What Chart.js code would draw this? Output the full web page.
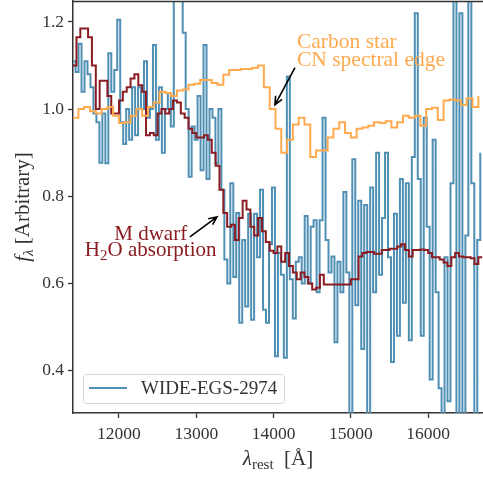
<!DOCTYPE html>
<html>
<head>
<meta charset="utf-8">
<script src="https://cdn.jsdelivr.net/npm/chart.js@4.4.1/dist/chart.umd.min.js"></script>
<style>
  html, body { margin: 0; padding: 0; background: #fff; }
  #wrap { width: 483px; height: 480px; }
</style>
</head>
<body>
<div id="wrap"><canvas id="spec" width="483" height="480"></canvas></div>
<script>
// observed spectrum, 38.5 A bins from 11400 A
const OBS_START = 11400;
const OBS_STEP = 38.5;
const obsFlux = [
  1.11, 1.085, 1.15, 1.04, 1.11, 1.08, 1.05, 0.99, 0.97, 0.877,
  0.99, 0.876, 1.128, 1.04, 1.09, 1.205, 0.97, 0.92, 1.00, 0.93,
  1.05, 0.94, 1.05, 1.00, 1.11, 0.98, 1.00, 1.147, 0.93, 1.05,
  0.90, 1.00, 1.037, 0.96, 1.30, 1.35, 1.30, 1.175, 1.00, 0.845,
  0.96, 0.93, 1.03, 0.86, 1.147, 0.84, 1.00, 0.98, 0.875, 1.00,
  0.815, 0.655, 0.60, 0.83, 0.615, 0.762, 0.51, 0.70, 0.547, 0.76,
  0.517, 0.76, 0.66, 0.815, 0.54, 0.51, 0.69, 0.82, 0.433, 0.67,
  0.62, 0.43, 1.075, 0.61, 0.52, 0.65, 0.66, 0.60, 0.755, 0.60,
  0.73, 0.745, 0.58, 0.745, 0.98, 0.70, 0.625, 0.662, 0.465, 0.65,
  0.58, 0.81, 0.625, 0.28, 0.885, 0.55, 0.79, 0.45, 0.78, 0.28,
  0.82, 0.58, 0.90, 0.62, 0.75, 0.90, 0.66, 0.42, 0.76, 0.48,
  0.84, 0.556, 0.83, 0.47, 0.89, 1.22, 0.84, 0.48, 0.98, 0.73,
  0.38, 0.93, 0.58, 0.36, 0.28, 0.66, 0.33, 0.83, 1.30, 0.28,
  1.22, 0.28, 0.71, 1.30, 0.83, 0.28, 0.70, 0.90
];

// M dwarf template, 50 A bins from 11400 A
const MDW_START = 11400;
const MDW_STEP = 50;
const mdwarfFlux = [
  1.10, 1.165, 1.185, 1.185, 1.165, 1.10, 1.00, 1.065, 1.065, 1.03,
  0.99, 0.99, 1.02, 1.04, 1.05, 1.07, 1.08, 1.055, 1.04, 0.94,
  0.945, 0.94, 0.99, 1.00, 0.99, 1.00, 1.02, 1.015, 0.99, 0.98,
  0.955, 0.945, 0.935, 0.935, 0.94, 0.93, 0.90, 0.87, 0.815, 0.762,
  0.73, 0.735, 0.70, 0.75, 0.79, 0.77, 0.73, 0.71, 0.75, 0.72,
  0.695, 0.675, 0.67, 0.685, 0.65, 0.67, 0.64, 0.625, 0.61, 0.625,
  0.615, 0.60, 0.586, 0.59, 0.62, 0.598, 0.598, 0.598, 0.598, 0.598,
  0.598, 0.598, 0.61, 0.61, 0.662, 0.67, 0.672, 0.672, 0.668, 0.668,
  0.677, 0.677, 0.68, 0.68, 0.685, 0.69, 0.677, 0.662, 0.677, 0.677,
  0.678, 0.677, 0.67, 0.66, 0.66, 0.655, 0.648, 0.64, 0.66, 0.67,
  0.662, 0.66, 0.66, 0.658, 0.645, 0.66, 0.66
];

// carbon star template, 75 A bins from 11400 A
const CSTAR_START = 11400;
const CSTAR_STEP = 75;
const cstarFlux = [
  0.98, 1.00, 1.005, 0.995, 0.99, 1.00, 1.005, 0.985, 0.968, 0.97,
  0.985, 1.00, 0.985, 1.005, 1.015, 1.04, 1.037, 1.03, 1.043, 1.045,
  1.056, 1.058, 1.067, 1.067, 1.06, 1.056, 1.079, 1.09, 1.09, 1.092,
  1.092, 1.095, 1.10, 1.05, 1.00, 0.955, 0.90, 0.93, 0.965, 0.98,
  0.965, 0.89, 0.905, 0.905, 0.935, 0.955, 0.97, 0.945, 0.935, 0.955,
  0.958, 0.962, 0.97, 0.968, 0.972, 0.958, 0.97, 0.985, 0.98, 0.985,
  0.962, 1.00, 1.003, 0.975, 1.02, 1.022, 1.02, 1.01, 1.025, 1.005,
  1.03
];

const xTicks = [12000, 13000, 14000, 15000, 16000];
const yTicks = [0.4, 0.6, 0.8, 1.0, 1.2];
const legendLabel = 'WIDE-EGS-2974';

const BLUE = '#4f8fb4';
const MAROON = '#8a1c22';
const ORANGE = '#ffaa4f';
const INK = '#333333';
const SERIF = '"Liberation Serif", "DejaVu Serif", serif';

function toPoints(start, step, flux) {
  return flux.map((f, i) => ({ x: start + i * step, y: f }));
}

// draws a run of text pieces (for sub-scripts)
function drawRich(ctx, parts, x, y, align) {
  let total = 0;
  parts.forEach(p => { ctx.font = p.font; total += ctx.measureText(p.t).width; });
  let cx = align === 'center' ? x - total / 2 : (align === 'right' ? x - total : x);
  ctx.textAlign = 'left';
  parts.forEach(p => {
    ctx.font = p.font;
    ctx.fillText(p.t, cx, y + (p.dy || 0));
    cx += ctx.measureText(p.t).width;
  });
}

function arrow(ctx, x0, y0, x1, y1) {
  const ang = Math.atan2(y1 - y0, x1 - x0);
  const L = 9, spread = 0.42;
  ctx.beginPath();
  ctx.moveTo(x0, y0);
  ctx.lineTo(x1, y1);
  ctx.moveTo(x1 - L * Math.cos(ang - spread), y1 - L * Math.sin(ang - spread));
  ctx.lineTo(x1, y1);
  ctx.lineTo(x1 - L * Math.cos(ang + spread), y1 - L * Math.sin(ang + spread));
  ctx.stroke();
}

const overlay = {
  id: 'overlay',
  afterDatasetsDraw(chart) {
    const { ctx, chartArea: a, scales: { x, y } } = chart;
    ctx.save();

    // top spine
    ctx.strokeStyle = INK;
    ctx.lineWidth = 1.5;
    ctx.beginPath();
    ctx.moveTo(a.left, a.top + 0.5);
    ctx.lineTo(a.right, a.top + 0.5);
    ctx.stroke();

    // carbon star note
    ctx.fillStyle = ORANGE;
    ctx.textBaseline = 'alphabetic';
    ctx.textAlign = 'left';
    ctx.font = '21.5px ' + SERIF;
    const cx = x.getPixelForValue(14303);
    ctx.fillText('Carbon star', cx, y.getPixelForValue(1.14));
    ctx.fillText('CN spectral edge', cx, y.getPixelForValue(1.10));

    // M dwarf note
    ctx.fillStyle = MAROON;
    const mx = x.getPixelForValue(12410);
    ctx.textAlign = 'center';
    ctx.font = '21px ' + SERIF;
    ctx.fillText('M dwarf', mx, y.getPixelForValue(0.70));
    drawRich(ctx, [
      { t: 'H', font: '21px ' + SERIF },
      { t: '2', font: '15px ' + SERIF, dy: 4 },
      { t: 'O absorption', font: '21px ' + SERIF }
    ], mx, y.getPixelForValue(0.662), 'center');

    // arrows
    ctx.strokeStyle = '#000';
    ctx.lineWidth = 1.6;
    arrow(ctx, x.getPixelForValue(14277), y.getPixelForValue(1.095),
               x.getPixelForValue(14018), y.getPixelForValue(1.010));
    arrow(ctx, x.getPixelForValue(12918), y.getPixelForValue(0.707),
               x.getPixelForValue(13268), y.getPixelForValue(0.753));

    // legend
    const lx = a.left + 10, ly = a.bottom - 39, lw = 201, lh = 29;
    ctx.beginPath();
    ctx.roundRect(lx + 0.5, ly + 0.5, lw, lh, 3);
    ctx.fillStyle = 'rgba(255,255,255,0.8)';
    ctx.fill();
    ctx.strokeStyle = '#d6d6d6';
    ctx.lineWidth = 1;
    ctx.stroke();
    ctx.strokeStyle = BLUE;
    ctx.lineWidth = 2;
    ctx.beginPath();
    ctx.moveTo(lx + 6, ly + 14);
    ctx.lineTo(lx + 44, ly + 14);
    ctx.stroke();
    ctx.fillStyle = INK;
    ctx.font = '19px ' + SERIF;
    ctx.textAlign = 'left';
    ctx.textBaseline = 'middle';
    ctx.fillText(legendLabel, lx + 58, ly + 15);

    // axis titles
    ctx.fillStyle = INK;
    ctx.textBaseline = 'alphabetic';
    drawRich(ctx, [
      { t: 'λ', font: 'italic 21px ' + SERIF },
      { t: 'rest', font: '15px ' + SERIF, dy: 4 },
      { t: '  [Å]', font: '21px ' + SERIF }
    ], (a.left + a.right) / 2, 465, 'center');

    ctx.translate(29, (a.top + a.bottom) / 2);
    ctx.rotate(-Math.PI / 2);
    drawRich(ctx, [
      { t: 'f', font: 'italic 21px ' + SERIF },
      { t: 'λ', font: 'italic 15px ' + SERIF, dy: 4 },
      { t: ' [Arbitrary]', font: '21px ' + SERIF }
    ], 0, 0, 'center');

    ctx.restore();
  }
};

const lineStyle = {
  stepped: true,
  pointRadius: 0,
  borderWidth: 2,
  tension: 0,
  fill: false,
  clip: 0
};

new Chart(document.getElementById('spec'), {
  type: 'line',
  data: {
    datasets: [
      { ...lineStyle, label: legendLabel, data: toPoints(OBS_START, OBS_STEP, obsFlux),
        borderColor: BLUE, order: 3 },
      { ...lineStyle, label: 'M dwarf', data: toPoints(MDW_START, MDW_STEP, mdwarfFlux),
        borderColor: MAROON, order: 2 },
      { ...lineStyle, label: 'Carbon star', data: toPoints(CSTAR_START, CSTAR_STEP, cstarFlux),
        borderColor: ORANGE, order: 1 }
    ]
  },
  options: {
    responsive: false,
    animation: false,
    events: [],
    layout: { padding: { top: 1, right: 0, bottom: 0, left: 0 } },
    plugins: { legend: { display: false }, tooltip: { enabled: false } },
    scales: {
      x: {
        type: 'linear',
        min: 11405,
        max: 16710,
        afterBuildTicks: s => { s.ticks = xTicks.map(v => ({ value: v })); },
        afterFit: s => { s.height = 67; s.paddingLeft = 0; s.paddingRight = 0; },
        grid: { drawOnChartArea: false, tickLength: 5, tickColor: INK, tickWidth: 1.3 },
        border: { display: true, color: INK, width: 1.5 },
        ticks: { color: INK, padding: 6, maxRotation: 0, font: { family: SERIF, size: 17.5 },
                 callback: v => String(v) }
      },
      y: {
        min: 0.303,
        max: 1.248,
        afterBuildTicks: s => { s.ticks = yTicks.map(v => ({ value: v })); },
        afterFit: s => { s.width = 73; s.paddingTop = 0; s.paddingBottom = 0; },
        grid: { drawOnChartArea: false, tickLength: 5, tickColor: INK, tickWidth: 1.3 },
        border: { display: true, color: INK, width: 1.5 },
        ticks: { color: INK, padding: 4, font: { family: SERIF, size: 17.5 },
                 callback: v => v.toFixed(1) }
      }
    }
  },
  plugins: [overlay]
});
</script>
</body>
</html>
